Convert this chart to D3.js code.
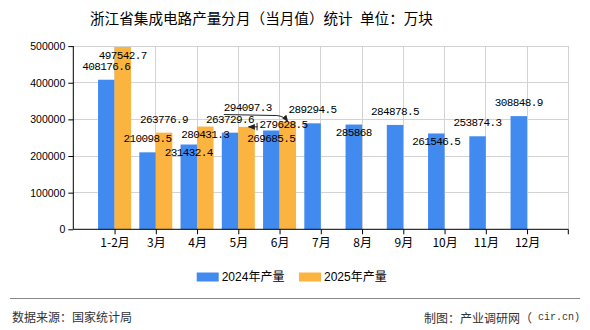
<!DOCTYPE html>
<html>
<head>
<meta charset="utf-8">
<script src="https://cdn.jsdelivr.net/npm/d3@7/dist/d3.min.js"></script>
<style>
  html, body { margin: 0; padding: 0; background: #fff; }
  svg { display: block; }
</style>
</head>
<body>
<svg id="chart" width="590" height="330"></svg>
<script>
// ---- data ----
const categories = ["1-2月", "3月", "4月", "5月", "6月", "7月", "8月", "9月", "10月", "11月", "12月"];
const values2024 = [408176.6, 210098.5, 231432.4, 263729.6, 269685.5, 289294.5, 285868, 284878.5, 261546.5, 253874.3, 308848.9];
const values2025 = [497542.7, 263776.9, 280431.3, 279628.5, 294097.3];
const labels2024 = ["408176.6", "210098.5", "231432.4", "263729.6", "269685.5", "289294.5", "285868", "284878.5", "261546.5", "253874.3", "308848.9"];
const labels2025 = ["497542.7", "263776.9", "280431.3", "279628.5", "294097.3"];
const yTicks = [0, 100000, 200000, 300000, 400000, 500000];
const seriesNames = ["2024年产量", "2025年产量"];
// label placement (style choice, not data): a = above, i = inside, r = shifted right w/ leader, l = shifted left w/ leader
const place2024 = ["a", "a", "i", "a", "i", "a", "i", "a", "i", "a", "a"];
const place2025 = ["i", "a", "i", "r", "l"];

(function () {
const colors = ["#418bf0", "#fbb440"];
const svg = d3.select("#chart");
const cjk = "'SimSun','Noto Sans CJK SC',sans-serif";
const mono = "'Liberation Mono','DejaVu Sans Mono',monospace";

const pL = 73.3, pR = 568.3, pT = 46.1, pB = 229.3;
const x = d3.scalePoint().domain(categories).range([pL, pR]).padding(1);
const y = d3.scaleLinear().domain([0, 500000]).range([pB, pT]);
const bw = 16.5;

// arrow marker
svg.append("defs").append("marker")
  .attr("id", "arr").attr("viewBox", "0 0 10 10").attr("refX", 9).attr("refY", 5)
  .attr("markerWidth", 7).attr("markerHeight", 7).attr("orient", "auto-start-reverse")
  .append("path").attr("d", "M0,1 L10,5 L0,9 Z").attr("fill", "#222");

// gridlines
const grid = svg.append("g");
grid.selectAll("line.h").data(yTicks.filter(d => d > 0)).join("line")
  .attr("x1", pL).attr("x2", pR).attr("y1", d => y(d)).attr("y2", d => y(d))
  .attr("stroke", "#d3d3d3").attr("stroke-width", 1).attr("shape-rendering", "crispEdges");
grid.selectAll("line.v").data(categories.concat(["__end"])).join("line")
  .attr("x1", d => d === "__end" ? pR : x(d)).attr("x2", d => d === "__end" ? pR : x(d))
  .attr("y1", pT).attr("y2", pB)
  .attr("stroke", "#d3d3d3").attr("stroke-width", 1).attr("shape-rendering", "crispEdges");

// bars
svg.append("g").selectAll("rect").data(values2024).join("rect")
  .attr("x", (d, i) => x(categories[i]) - bw).attr("width", bw)
  .attr("y", d => y(d)).attr("height", d => pB - y(d))
  .attr("fill", colors[0]);
svg.append("g").selectAll("rect").data(values2025).join("rect")
  .attr("x", (d, i) => x(categories[i])).attr("width", bw)
  .attr("y", d => y(d)).attr("height", d => pB - y(d))
  .attr("fill", colors[1]);

// axes
const yAxis = d3.axisLeft(y).tickValues(yTicks).tickSize(5).tickPadding(3).tickFormat(d3.format("d"));
const ya = svg.append("g").attr("transform", `translate(${pL},0)`).call(yAxis);
ya.select(".domain").attr("d", `M0,${pT}V${pB}`).attr("stroke", "#000");
ya.selectAll("text").attr("font-family", "'Liberation Sans',Arial,sans-serif").attr("font-size", 10.5).attr("fill", "#000");

const xAxis = d3.axisBottom(x).tickSize(5).tickSizeOuter(0).tickPadding(4);
const xa = svg.append("g").attr("transform", `translate(0,${pB})`).call(xAxis);
xa.select(".domain").attr("d", `M${pL},0H${pR}`).attr("stroke", "#000");
xa.selectAll("text").attr("font-family", cjk).attr("font-size", 12).attr("fill", "#000");
xa.append("line").attr("x1", pR).attr("x2", pR).attr("y1", 0).attr("y2", 5).attr("stroke", "#000");

// data labels
function labelPos(v, cx, p) {
  if (p === "a") return [cx, y(v) - 13];
  if (p === "i") return [cx, y(v) + 8.5];
  if (p === "r") return [cx + 37, y(v) - 1.7];
  return [cx - 40, y(v) - 14];
}
const lab = svg.append("g").attr("font-family", mono).attr("font-size", 11).attr("letter-spacing", -0.6)
  .attr("fill", "#000").attr("text-anchor", "middle").attr("dominant-baseline", "central");
values2024.forEach((v, i) => {
  const [lx, ly] = labelPos(v, x(categories[i]) - bw / 2, place2024[i]);
  lab.append("text").attr("x", lx).attr("y", ly).text(labels2024[i]);
});
values2025.forEach((v, i) => {
  const cx = x(categories[i]) + bw / 2;
  const [lx, ly] = labelPos(v, cx, place2025[i]);
  if (place2025[i] === "r") {
    svg.append("line").attr("x1", lx - 26).attr("x2", cx + 2).attr("y1", y(v)).attr("y2", y(v))
      .attr("stroke", "#222").attr("stroke-width", 1).attr("marker-end", "url(#arr)");
    svg.append("line").attr("x1", lx - 26.5).attr("x2", lx - 26.5).attr("y1", y(v) - 4).attr("y2", y(v) + 3.5)
      .attr("stroke", "#222").attr("stroke-width", 1);
  }
  if (place2025[i] === "l") {
    const sx = lx - 24, sy = ly + 7;
    svg.append("path")
      .attr("d", `M${sx},${sy} L${cx - 11},${sy + 1} Q${cx - 4},${sy + 1.5} ${cx},${y(v)}`)
      .attr("fill", "none").attr("stroke", "#222").attr("stroke-width", 1).attr("marker-end", "url(#arr)");
  }
  lab.append("text").attr("x", lx).attr("y", ly).text(labels2025[i]);
});

// title
svg.append("text").attr("x", 90).attr("y", 17).attr("dominant-baseline", "central")
  .attr("font-family", cjk).attr("font-size", 14.6).attr("fill", "#000")
  .text("浙江省集成电路产量分月（当月值）统计\u2002单位：万块");

// legend
const legX = [196.7, 299];
seriesNames.forEach((n, i) => {
  svg.append("rect").attr("x", legX[i]).attr("y", 272.5).attr("width", 22).attr("height", 9).attr("fill", colors[i]);
  svg.append("text").attr("x", legX[i] + 25).attr("y", 276.5).attr("dominant-baseline", "central")
    .attr("font-family", "'Liberation Sans','Noto Sans CJK SC',sans-serif").attr("font-size", 12).attr("fill", "#000").text(n);
});

// footer
svg.append("line").attr("x1", 10).attr("x2", 580).attr("y1", 298.5).attr("y2", 298.5)
  .attr("stroke", "#888").attr("stroke-width", 1.2);
svg.append("text").attr("x", 12).attr("y", 316.5).attr("dominant-baseline", "central")
  .attr("font-family", cjk).attr("font-size", 12).attr("fill", "#333").text("数据来源：国家统计局");
const credit = svg.append("text").attr("x", 580).attr("y", 316.5).attr("dominant-baseline", "central").attr("text-anchor", "end")
  .attr("font-family", cjk).attr("font-size", 12).attr("fill", "#333");
credit.append("tspan").text("制图：产业调研网（");
credit.append("tspan").attr("font-family", mono).attr("font-size", 10).attr("xml:space", "preserve").text("\u00a0cir.cn)");
})();
</script>
</body>
</html>
